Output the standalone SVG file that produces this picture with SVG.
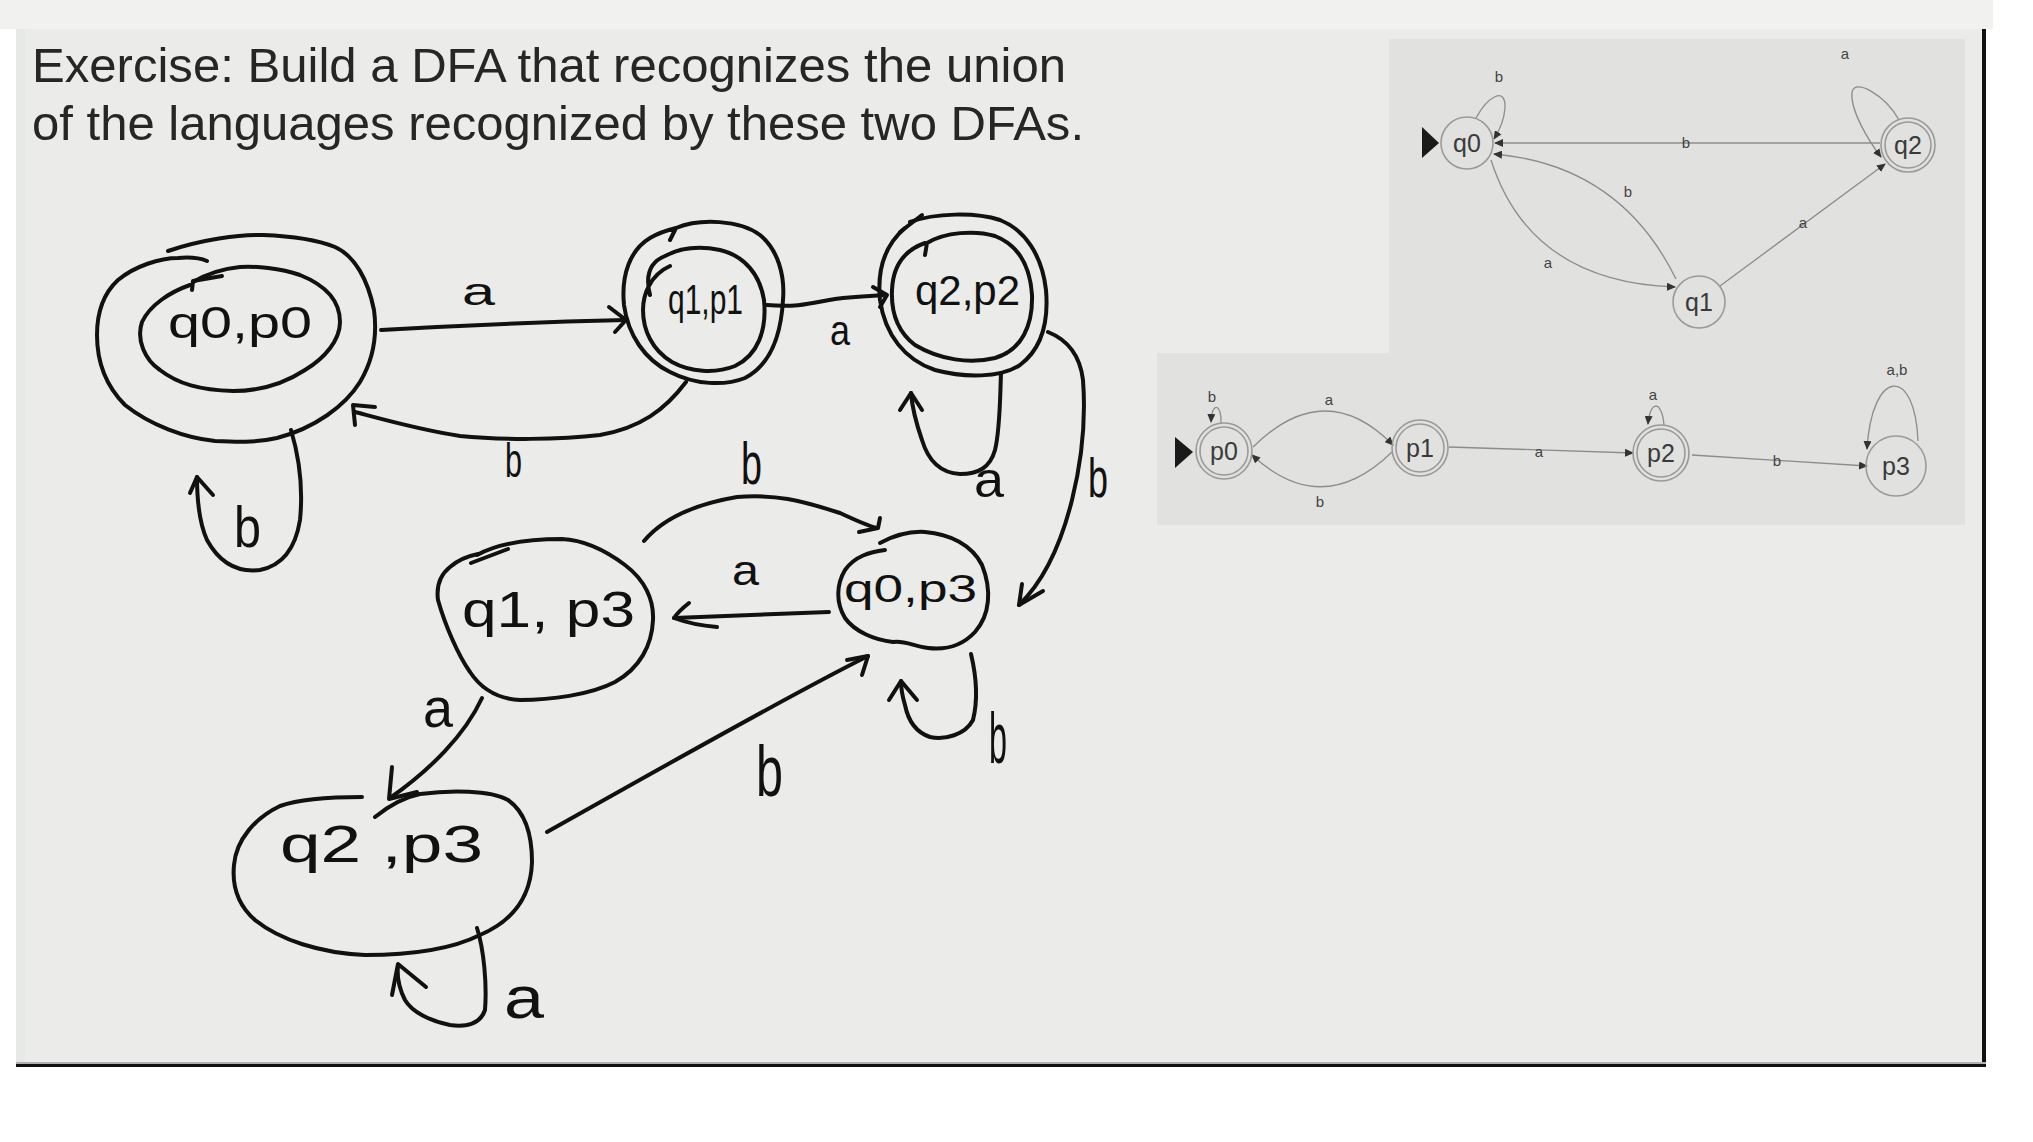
<svg xmlns="http://www.w3.org/2000/svg" width="2033" height="1142" viewBox="0 0 2033 1142">
<style>
.hw{fill:none;stroke:#111;stroke-width:4;stroke-linecap:round;stroke-linejoin:round}
.ht{font-family:"Liberation Sans","DejaVu Sans",sans-serif;fill:#111}
.sc{fill:none;stroke:#9a9a9a;stroke-width:1.6}
.se{fill:none;stroke:#8c8c8c;stroke-width:1.3}
.st{font-family:"Liberation Sans",Arial,sans-serif;fill:#3a3a3a;font-size:25px;text-anchor:middle}
.sl{font-family:"Liberation Sans",Arial,sans-serif;fill:#444;font-size:15px;text-anchor:middle}
.title{font-family:"Liberation Sans",Arial,sans-serif;fill:#262626;font-size:49px}
</style>
<defs>
<marker id="ah" markerWidth="9" markerHeight="8" refX="8" refY="4" orient="auto" markerUnits="userSpaceOnUse">
<path d="M0,0 L9,4 L0,8 z" fill="#333"/>
</marker>
</defs>
<rect x="0" y="0" width="2033" height="1142" fill="#ffffff"/>
<rect x="0" y="0" width="1993" height="29" fill="#f1f1f0"/>
<rect x="16" y="29" width="1968" height="1036" fill="#ebebe9"/>
<rect x="16" y="29" width="9" height="1036" fill="#e7e9e9"/>
<rect x="1982" y="29" width="4" height="1038" fill="#111"/>
<rect x="16" y="1062" width="1970" height="2" fill="#b0b0b0"/>
<rect x="16" y="1064" width="1970" height="3" fill="#111"/>

<text class="title" x="32" y="82" textLength="1034" lengthAdjust="spacingAndGlyphs">Exercise: Build a DFA that recognizes the union</text>
<text class="title" x="32" y="140" textLength="1052" lengthAdjust="spacingAndGlyphs">of the languages recognized by these two DFAs.</text>

<!-- small reference DFAs -->
<path d="M1389,39 H1965 V525 H1157 V353 H1389 Z" fill="#e1e1e0"/>

<g id="small-connectors">
<path class="se" d="M1476,118 C1488,96 1506,86 1505,108 C1504,122 1499,131 1494,139" marker-end="url(#ah)"/>
<text class="sl" x="1499" y="82">b</text>
<path class="se" d="M1899,120 C1885,95 1855,78 1852,92 C1850,110 1868,140 1881,157" marker-end="url(#ah)"/>
<text class="sl" x="1845" y="59">a</text>
<path class="se" d="M1880,143 L1495,143" marker-end="url(#ah)"/>
<text class="sl" x="1686" y="148">b</text>
<path class="se" d="M1491,160 Q1530,282 1675,287" marker-end="url(#ah)"/>
<text class="sl" x="1548" y="268">a</text>
<path class="se" d="M1676,279 Q1620,165 1494,154" marker-end="url(#ah)"/>
<text class="sl" x="1628" y="197">b</text>
<path class="se" d="M1720,286 L1885,164" marker-end="url(#ah)"/>
<text class="sl" x="1803" y="228">a</text>

<path class="se" d="M1221,423 C1222,405 1212,400 1211,422" marker-end="url(#ah)"/>
<text class="sl" x="1212" y="402">b</text>
<path class="se" d="M1253,447 Q1325,376 1393,445" marker-end="url(#ah)"/>
<text class="sl" x="1329" y="405">a</text>
<path class="se" d="M1392,452 Q1322,520 1252,455" marker-end="url(#ah)"/>
<text class="sl" x="1320" y="507">b</text>
<path class="se" d="M1449,447 L1633,453" marker-end="url(#ah)"/>
<text class="sl" x="1539" y="457">a</text>
<path class="se" d="M1664,425 C1662,400 1650,400 1648,424" marker-end="url(#ah)"/>
<text class="sl" x="1653" y="400">a</text>
<path class="se" d="M1692,455 L1867,466" marker-end="url(#ah)"/>
<text class="sl" x="1777" y="466">b</text>
<path class="se" d="M1918,441 C1915,365 1872,368 1867,449" marker-end="url(#ah)"/>
<text class="sl" x="1897" y="375">a,b</text>
</g>

<g id="q0"><circle class="sc" cx="1467" cy="143" r="26"/><text class="st" x="1467" y="152">q0</text><path d="M1422,127 L1439,143 L1422,158 z" fill="#1a1a1a"/></g>
<g id="q1"><circle class="sc" cx="1699" cy="302" r="26"/><text class="st" x="1699" y="311">q1</text></g>
<g id="q2"><circle class="sc" cx="1908" cy="145" r="27"/><circle class="sc" cx="1908" cy="145" r="23"/><text class="st" x="1908" y="154">q2</text></g>
<g id="p0"><circle class="sc" cx="1224" cy="451" r="28"/><circle class="sc" cx="1224" cy="451" r="24"/><text class="st" x="1224" y="460">p0</text><path d="M1175,437 L1193,452 L1175,468 z" fill="#1a1a1a"/></g>
<g id="p1"><circle class="sc" cx="1420" cy="448" r="28"/><circle class="sc" cx="1420" cy="448" r="24"/><text class="st" x="1420" y="457">p1</text></g>
<g id="p2"><circle class="sc" cx="1661" cy="453" r="28"/><circle class="sc" cx="1661" cy="453" r="24"/><text class="st" x="1661" y="462">p2</text></g>
<g id="p3"><circle class="sc" cx="1896" cy="466" r="30"/><text class="st" x="1896" y="475">p3</text></g>

<!-- handwritten product DFA -->
<g id="connectors">
<path class="hw" d="M381,330 C450,326 540,322 626,320"/>
<path class="hw" d="M609,307 L626,320 L615,332"/>
<text class="ht" x="462" y="305" font-size="38" textLength="33" lengthAdjust="spacingAndGlyphs">a</text>

<path class="hw" d="M767,305 C800,308 815,302 835,299 C855,296 870,296 886,295"/>
<path class="hw" d="M873,287 L887,295 L880,307"/>
<text class="ht" x="830" y="345" font-size="42" textLength="20" lengthAdjust="spacingAndGlyphs">a</text>

<path class="hw" d="M686,382 C665,410 640,428 600,435 C560,440 500,440 460,436 C420,430 385,420 355,412"/>
<path class="hw" d="M375,407 L353,405 L355,425"/>
<text class="ht" x="505" y="477" font-size="48" textLength="17" lengthAdjust="spacingAndGlyphs">b</text>

<path class="hw" d="M291,430 C300,460 303,490 300,520 C296,545 285,565 260,570 C235,573 218,560 207,540 C198,520 197,495 197,477"/>
<path class="hw" d="M190,493 L197,477 L213,495"/>
<text class="ht" x="234" y="547" font-size="57" textLength="27" lengthAdjust="spacingAndGlyphs">b</text>

<path class="hw" d="M1001,373 C1000,400 1000,430 995,450 C990,468 978,474 960,474 C940,473 928,460 922,440 C915,420 912,405 911,393"/>
<path class="hw" d="M900,410 L911,393 L922,410"/>
<text class="ht" x="974" y="497" font-size="50" textLength="30" lengthAdjust="spacingAndGlyphs">a</text>

<path class="hw" d="M1048,332 C1068,340 1080,355 1083,380 C1086,420 1082,460 1072,500 C1062,540 1045,580 1019,605"/>
<path class="hw" d="M1022,584 L1019,605 L1043,591"/>
<text class="ht" x="1088" y="497" font-size="55" textLength="20" lengthAdjust="spacingAndGlyphs">b</text>

<path class="hw" d="M644,541 C660,522 690,505 737,497 C775,494 800,500 840,513 C855,520 868,526 877,528"/>
<path class="hw" d="M859,532 L878,528 L880,518"/>
<text class="ht" x="741" y="484" font-size="60" textLength="21" lengthAdjust="spacingAndGlyphs">b</text>

<path class="hw" d="M829,612 L674,618"/>
<path class="hw" d="M689,603 C680,610 676,615 674,618 C690,624 705,626 717,627"/>
<text class="ht" x="732" y="585" font-size="43" textLength="27" lengthAdjust="spacingAndGlyphs">a</text>

<path class="hw" d="M971,654 C976,675 978,700 973,720 C965,735 945,740 930,737 C915,732 908,720 905,705 C902,695 901,688 901,681"/>
<path class="hw" d="M889,700 L901,681 L917,700"/>
<text class="ht" x="989" y="763" font-size="72" textLength="18" lengthAdjust="spacingAndGlyphs">b</text>

<path class="hw" d="M482,698 C465,735 430,770 390,798"/>
<path class="hw" d="M392,767 L389,799 L417,792"/>
<text class="ht" x="423" y="727" font-size="56" textLength="30" lengthAdjust="spacingAndGlyphs">a</text>

<path class="hw" d="M547,832 C640,780 780,700 868,656"/>
<path class="hw" d="M847,660 L868,656 L862,675"/>
<text class="ht" x="756" y="796" font-size="72" textLength="27" lengthAdjust="spacingAndGlyphs">b</text>

<path class="hw" d="M477,928 C484,950 487,985 485,1010 C480,1025 465,1027 450,1025 C430,1021 412,1012 405,1000 C399,988 397,975 398,966"/>
<path class="hw" d="M392,995 L398,964 L426,987"/>
<text class="ht" x="504" y="1018" font-size="60" textLength="40" lengthAdjust="spacingAndGlyphs">a</text>
</g>

<g id="q0p0">
<path class="hw" d="M168,251 C200,240 240,234 263,235 C290,236 315,239 335,247 C355,256 368,280 374,310 C378,340 372,362 360,382 C345,406 315,428 277,438 C255,443 235,442 215,441 C185,438 150,425 125,405 C105,385 97,360 97,335 C97,310 105,292 118,280 C135,266 160,258 178,258 C190,257 200,258 207,261"/>
<path class="hw" d="M190,285 C170,292 150,305 142,322 C136,340 145,360 160,370 C178,384 200,390 233,391 C260,391 285,383 305,370 C325,358 340,340 340,322 C340,300 325,285 300,275 C280,268 255,266 240,267 C220,269 205,275 193,282"/>
<path class="hw" d="M192,290 L193,281 L222,276"/>
<text class="ht" x="168" y="338" font-size="44" textLength="144" lengthAdjust="spacingAndGlyphs">q0,p0</text>
</g>

<g id="q1p1">
<path class="hw" d="M670,240 L676,228 C700,218 740,220 760,235 C778,250 785,275 783,300 C781,335 770,365 745,378 C725,386 695,385 670,372 C645,360 628,335 624,305 C621,275 630,250 650,238 C660,232 668,230 676,228"/>
<path class="hw" d="M650,295 C645,275 650,262 665,256 C680,248 700,246 720,250 C745,256 760,275 764,300 C767,330 758,355 735,366 C715,374 690,372 672,362 C652,350 643,330 643,310 C643,295 650,275 670,266"/>
<text class="ht" x="668" y="314" font-size="42" textLength="75" lengthAdjust="spacingAndGlyphs">q1,p1</text>
</g>

<g id="q2p2">
<path class="hw" d="M900,232 L922,215"/>
<path class="hw" d="M910,222 C935,213 975,212 1000,220 C1025,230 1042,255 1046,290 C1049,325 1040,350 1020,365 C1000,378 965,378 935,370 C905,360 885,335 880,300 C877,270 885,245 905,228"/>
<path class="hw" d="M925,255 L927,243 C945,232 975,230 995,236 C1018,245 1030,265 1032,295 C1033,325 1022,350 995,358 C970,364 940,360 915,345 C898,332 891,312 892,290 C893,265 905,250 925,243"/>
<text class="ht" x="915" y="305" font-size="42" textLength="105" lengthAdjust="spacingAndGlyphs">q2,p2</text>
</g>

<g id="q0p3">
<path class="hw" d="M880,543 C895,535 910,531 925,532 C950,534 972,545 982,565 C992,590 990,615 975,632 C962,646 945,650 928,648 C915,647 905,640 893,642 C875,640 855,632 845,618 C836,603 836,585 845,570 C855,556 870,552 885,550"/>
<text class="ht" x="844" y="602" font-size="38" textLength="133" lengthAdjust="spacingAndGlyphs">q0,p3</text>
</g>

<g id="q1p3">
<path class="hw" d="M477,555 C495,545 525,539 562,539 C585,540 605,550 625,565 C645,580 654,600 653,620 C652,645 640,668 615,682 C590,695 550,700 520,700 C500,699 482,690 470,672 C458,655 445,625 438,600 C436,585 440,575 450,567 C458,560 468,556 478,554"/>
<path class="hw" d="M471,563 L508,549"/>
<text class="ht" x="462" y="627" font-size="50" textLength="173" lengthAdjust="spacingAndGlyphs">q1, p3</text>
</g>

<g id="q2p3">
<path class="hw" d="M375,817 C390,805 405,797 420,794 C450,790 490,790 508,800 C525,812 532,835 532,862 C531,895 515,920 480,935 C450,950 410,955 365,955 C320,953 280,940 255,920 C238,905 232,885 234,865 C236,840 255,818 280,806 C300,799 330,797 362,797"/>
<text class="ht" x="280" y="862" font-size="52" textLength="203" lengthAdjust="spacingAndGlyphs">q2 ,p3</text>
</g>
</svg>
